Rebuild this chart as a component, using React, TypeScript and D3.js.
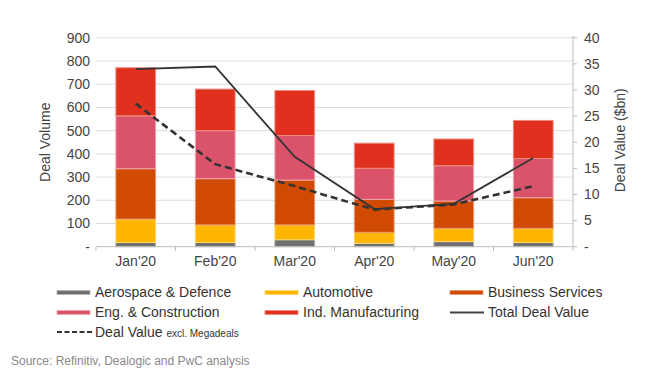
import React from "react";
import * as d3 from "d3";

const months = ["Jan'20", "Feb'20", "Mar'20", "Apr'20", "May'20", "Jun'20"];
const aerospace = [18, 18, 30, 15, 22, 18];
const automotive = [101, 76, 64, 47, 57, 61];
const businessServices = [217, 199, 193, 142, 118, 132];
const engConstruction = [228, 207, 192, 134, 152, 169];
const indManufacturing = [207, 179, 194, 108, 115, 164];
const totalDealValue = [34.0, 34.5, 17.2, 7.2, 8.2, 17.0];
const dealValueExclMega = [27.4, 15.8, 11.6, 7.1, 8.1, 11.6];
const leftTicks = [0, 100, 200, 300, 400, 500, 600, 700, 800, 900];
const rightTicks = [0, 5, 10, 15, 20, 25, 30, 35, 40];
const seriesNames = ["Aerospace & Defence", "Automotive", "Business Services", "Eng. & Construction", "Ind. Manufacturing"];
const seriesColors = ["#6f6f6f", "#ffb600", "#d04a02", "#db536a", "#e0301e"];
const seriesStrokes = ["#b5b5b5", "#ffd873", "#e89a6e", "#f0a5b1", "#f08a7e"];

const W = 670, H = 377;
const L = 96, R = 573, T = 37.8, B = 246.7;
const FONT = "'Liberation Sans', Arial, Helvetica, sans-serif";

export default function App() {
  const x = d3.scaleBand<string>().domain(months).range([L, R]).paddingInner(0.5).paddingOuter(0.25);
  const xb = d3.scaleBand<string>().domain(months).range([L, R]);
  const yL = d3.scaleLinear().domain([0, 900]).range([B, T]);
  const yR = d3.scaleLinear().domain([0, 40]).range([B, T]);

  const table = months.map((m, i) => ({
    m,
    s0: aerospace[i], s1: automotive[i], s2: businessServices[i], s3: engConstruction[i], s4: indManufacturing[i],
  }));
  const stack = d3.stack<any>().keys(["s0", "s1", "s2", "s3", "s4"])(table);

  const lineGen = d3.line<number>()
    .x((_, i) => (xb(months[i]) as number) + xb.bandwidth() / 2)
    .y((d) => yR(d));

  const fmt = (v: number) => (v === 0 ? "-" : String(v));

  const legendItems = [
    { name: seriesNames[0], kind: "bar", idx: 0 },
    { name: seriesNames[1], kind: "bar", idx: 1 },
    { name: seriesNames[2], kind: "bar", idx: 2 },
    { name: seriesNames[3], kind: "bar", idx: 3 },
    { name: seriesNames[4], kind: "bar", idx: 4 },
    { name: "Total Deal Value", kind: "line", idx: -1 },
    { name: "Deal Value", kind: "dash", idx: -1 },
  ];
  const colX = [57, 265, 450];
  const rowY = [292.5, 312.5, 332];

  return (
    <svg width={W} height={H} style={{ position: "absolute", left: 0, top: 0, background: "#fff" }} fontFamily={FONT}>
      {leftTicks.filter((t) => t > 0).map((t) => (
        <line key={t} x1={L} x2={R} y1={yL(t)} y2={yL(t)} stroke="#dcdcdc" strokeWidth={1} />
      ))}
      {leftTicks.map((t) => (
        <text key={t} x={90} y={yL(t)} dy="0.35em" textAnchor="end" fontSize={14} fill="#444">{fmt(t)}</text>
      ))}
      <line x1={R} x2={R} y1={T - 2} y2={B} stroke="#bdbdbd" />
      {rightTicks.map((t) => (
        <g key={t}>
          <line x1={R} x2={R + 4} y1={yR(t)} y2={yR(t)} stroke="#bdbdbd" />
          <text x={584} y={yR(t)} dy="0.35em" textAnchor="start" fontSize={14} fill="#444">{fmt(t)}</text>
        </g>
      ))}
      {stack.map((layer, li) =>
        layer.map((d: any, i: number) => (
          <rect key={li + "-" + i}
            x={x(months[i])} width={x.bandwidth()}
            y={yL(d[1])} height={Math.max(0, yL(d[0]) - yL(d[1]))}
            fill={seriesColors[li]} stroke={seriesStrokes[li]} strokeWidth={1} />
        ))
      )}
      <line x1={L} x2={R} y1={B} y2={B} stroke="#bdbdbd" />
      {months.map((m) => (
        <line key={m} x1={xb(m)} x2={xb(m)} y1={B} y2={B + 4} stroke="#bdbdbd" />
      ))}
      <line x1={R} x2={R} y1={B} y2={B + 4} stroke="#bdbdbd" />
      {months.map((m) => (
        <text key={m} x={(xb(m) as number) + xb.bandwidth() / 2} y={261} dy="0.35em" textAnchor="middle" fontSize={14} fill="#444">{m}</text>
      ))}
      <path d={lineGen(totalDealValue) || ""} fill="none" stroke="#333" strokeWidth={1.8} />
      <path d={lineGen(dealValueExclMega) || ""} fill="none" stroke="#333" strokeWidth={2.6} strokeDasharray="7,4" />
      <text transform={`translate(50,${(T + B) / 2}) rotate(-90)`} textAnchor="middle" fontSize={14} fill="#444">Deal Volume</text>
      <text transform={`translate(625,${(T + B) / 2 - 2}) rotate(-90)`} textAnchor="middle" fontSize={14} fill="#444">Deal Value ($bn)</text>
      {legendItems.map((it, k) => {
        const cx = colX[k % 3];
        const cy = rowY[Math.floor(k / 3)];
        let sw;
        if (it.kind === "bar") {
          sw = <rect x={cx} y={cy - 2} width={33} height={4} fill={seriesColors[it.idx]} stroke={seriesStrokes[it.idx]} strokeWidth={0.8} />;
        } else if (it.kind === "line") {
          sw = <line x1={cx} x2={cx + 34} y1={cy} y2={cy} stroke="#444" strokeWidth={1.8} />;
        } else {
          sw = <line x1={cx} x2={cx + 35} y1={cy} y2={cy} stroke="#333" strokeWidth={2.2} strokeDasharray="5,2.5" />;
        }
        return (
          <g key={it.name}>
            {sw}
            <text x={cx + 38} y={cy} dy="0.35em" fontSize={14} fill="#333">
              {it.name}
              {it.kind === "dash" ? <tspan fontSize={10} dx={4}>excl. Megadeals</tspan> : null}
            </text>
          </g>
        );
      })}
      <text x={11} y={361} dy="0.35em" fontSize={12} fill="#888">Source: Refinitiv, Dealogic and PwC analysis</text>
    </svg>
  );
}
